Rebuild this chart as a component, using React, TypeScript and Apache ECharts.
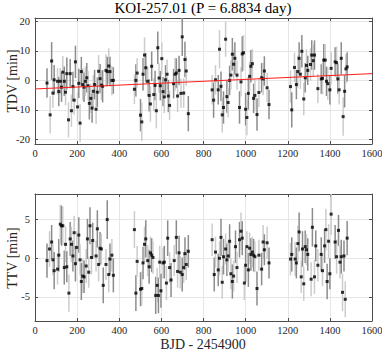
import React, { useEffect, useRef } from "react";
import * as echarts from "echarts";

const titleText = "KOI-257.01 (P = 6.8834 day)";
const tdvName = "TDV [min]";
const ttvName = "TTV [min]";
const xName = "BJD - 2454900";

// Top panel: transit duration variation
const tdvTime = [
  57, 72, 79, 85, 91, 107, 113, 120, 126, 132, 139, 145, 151, 159, 167, 173, 180, 186, 192, 202, 208, 214, 220, 227, 233, 239, 246, 252, 258, 265, 271, 277, 283, 290, 296, 302, 309, 315, 321, 337, 343, 350, 356, 365, 372,
  472, 479, 485, 501, 507, 513, 520, 526, 535, 542, 548, 554, 564, 570, 576, 583, 589, 595, 602, 608, 614, 620, 627, 633, 639, 658, 665, 671, 677, 684, 693, 699, 706, 712, 718, 728,
  841, 848, 857, 870, 876, 883, 889, 895, 905, 911, 917, 924, 930, 937, 943, 949, 959, 971, 978, 984, 990, 1000, 1006, 1013, 1019, 1025, 1032, 1038, 1044, 1054, 1063, 1076, 1083, 1089, 1102, 1111,
  1213, 1219, 1232, 1241, 1248, 1254, 1260, 1267, 1276, 1283, 1289, 1295, 1308, 1314, 1321, 1327, 1343, 1359, 1365, 1371, 1378, 1384, 1390, 1400, 1406, 1425, 1432, 1438, 1444, 1454, 1463, 1470, 1476, 1482,
];
const tdvValue = [
  -0.9, -11.7, 6.6, -4.3, 0.2, -0.3, -3.8, -0.3, -2.3, 2.8, -0.3, -4.0, 2.3, -13.4, 2.3, -10.3, -2.1, -6.7, 6.3, -9.0, -1.0, -14.5, 3.0, -1.4, -2.3, -0.3, 0.9, -1.8, -7.8, -6.1, -9.4, -3.7, -1.4, -9.8, -4.0, 3.1, 0.6, -1.6, -2.0, 3.4, 3.0, 4.9, 3.0, 0, 0,
  -3.0, 0, 2.5, -11.8, -14.1, 2.1, 8.6, 4.3, -0.3, -5.1, -8.0, 4.8, -4.8, -1.7, -10.3, 11.1, 0.8, -1.8, 7.4, -3.8, -5.6, 0.2, 2.1, -5.3, -8.5, -1.1, 2.1, 2.5, -5.3, 3.4, -4.4, 14.8, -4.3, 7.1, 3.2, -11.3,
  -3.2, -6.7, 0.2, -3.2, 10.6, -2.0, -11.7, -9.2, 14.0, -5.5, -7.5, 0, 1.8, 8.9, 5.5, 7.5, 1.8, -9.2, -0.5, 9.0, 9.4, -9.8, -12.6, -4.4, 1.4, 4.8, 5.7, -6.1, -5.1, -11.6, -4.1, 0.9, 0.5, 3.2, -2.5, -8.2,
  -2.1, -10.0, 4.4, -1.4, 3.0, 7.5, 2.1, 9.9, -6.3, 0.9, 5.1, 3.4, 5.4, 8.6, 6.7, 8.6, -2.8, 0.5, 0.7, 6.9, 6.9, -0.3, -1.1, -3.2, 4.1, 6.3, 6.0, 0.5, -3.2, 7.5, -12.3, -3.7, 3.9, 4.6,
];
const tdvError = [
  5.0, 6.3, 6.4, 5.0, 5.0, 4.5, 5.0, 4.5, 5.0, 5.5, 5.0, 4.5, 5.5, 6.0, 5.0, 5.5, 5.0, 5.0, 5.5, 5.0, 5.0, 6.5, 5.0, 5.5, 5.0, 5.0, 5.0, 5.0, 5.5, 5.0, 5.0, 5.5, 5.0, 5.0, 5.0, 5.5, 5.0, 5.0, 5.5, 5.5, 5.0, 6.0, 5.0, 5.0, 4.5,
  5.0, 5.5, 5.0, 5.5, 6.5, 5.5, 6.0, 5.0, 5.0, 5.5, 6.0, 5.0, 5.5, 5.0, 6.0, 5.5, 5.0, 5.0, 5.5, 5.0, 5.5, 5.0, 5.0, 5.5, 5.0, 5.0, 5.5, 5.0, 5.5, 5.0, 5.0, 6.5, 5.0, 6.0, 5.0, 6.0,
  5.0, 6.0, 5.0, 5.0, 6.5, 5.0, 6.0, 5.5, 6.0, 5.5, 5.0, 5.0, 5.0, 5.5, 5.0, 5.5, 5.0, 5.5, 5.0, 6.0, 6.0, 5.5, 6.0, 5.5, 5.0, 5.5, 5.0, 5.0, 5.5, 5.5, 5.0, 5.0, 5.5, 5.0, 5.0, 5.0,
  5.5, 6.0, 5.0, 5.0, 5.5, 5.5, 5.0, 5.5, 5.5, 5.0, 5.5, 5.0, 5.5, 5.0, 5.5, 5.0, 5.0, 5.0, 5.5, 5.5, 5.5, 5.0, 5.5, 5.0, 5.5, 5.0, 5.5, 5.0, 5.0, 5.5, 6.5, 5.5, 5.0, 5.0,
];
const tdvTrendX = [0, 1600];
const tdvTrendY = [-2.9, 2.3];

// Bottom panel: transit timing variation
const ttvTime = [
  57, 69, 79, 85, 91, 107, 113, 120, 126, 132, 139, 145, 151, 161, 167, 173, 180, 186, 192, 198, 208, 214, 220, 227, 233, 243, 249, 255, 261, 268, 274, 290, 296, 302, 309, 315, 324, 337, 343, 350, 356, 365, 372,
  472, 479, 485, 501, 507, 513, 520, 526, 535, 542, 548, 554, 560, 573, 580, 586, 592, 598, 608, 614, 624, 630, 639, 646, 661, 671, 677, 684, 690, 699, 706, 712, 718, 728,
  841, 851, 857, 870, 876, 883, 889, 895, 905, 911, 917, 924, 930, 937, 943, 952, 959, 971, 978, 984, 994, 1000, 1006, 1013, 1019, 1025, 1032, 1038, 1044, 1054, 1063, 1076, 1083, 1089, 1102, 1111,
  1213, 1219, 1235, 1241, 1248, 1254, 1264, 1270, 1276, 1283, 1289, 1295, 1311, 1317, 1327, 1333, 1343, 1359, 1365, 1375, 1381, 1387, 1394, 1400, 1406, 1425, 1432, 1441, 1448, 1454, 1460, 1467, 1473, 1482,
];
const ttvValue = [
  -0.3, 1.2, 2.1, -0.2, -1.6, -1.4, 0.4, 4.4, 4.2, 4.2, -1.2, 1.8, -1.1, -4.5, 2.5, 1.8, 0.3, 3.3, -0.7, 1.4, 3.0, -0.2, -3.0, -2.3, -2.4, -1.0, 2.5, -1.8, 4.2, 0.1, 2.3, 0.3, 3.8, -0.8, 1.3, 1.2, -3.5, -0.8, 5.0, -2.1, -0.1, 0.4, -2.2,
  3.7, -4.5, -0.4, -4.0, -3.9, -0.6, 1.8, 2.5, -0.3, -1.1, 0.7, 0.4, 0.1, -4.8, -3.5, -4.8, -0.5, -4.2, -0.6, -0.5, -3.2, 2.6, -1.2, -2.8, -0.3, 2.7, -1.7, 0.7, -1.8, -2.1, -1.2, 0.6, -0.8, 0.9,
  2.4, -2.1, 0.8, -1.5, 0, 2.7, -3.1, 0.2, 1.2, -0.2, 0.3, 2.2, -2.0, -3.0, -2.3, 1.5, -1.2, 2.4, 3.5, 2.6, -3.2, -0.9, 1.5, -1.5, 1.3, 0.5, 0.8, 0.4, 0.2, -3.9, 0.4, -1.4, 2.1, 1.1, 2.0, -0.6,
  -0.1, 0.5, -0.1, -0.6, 1.9, 3.4, -2.4, 1.2, -3.3, 1.5, 1.1, 0.5, -2.7, 4.0, -2.4, 1.6, -0.9, 0.5, -1.6, 1.6, 3.7, -3.0, 2.2, -2.0, 5.7, 2.1, 0.2, 3.6, -0.5, 0.2, -4.4, 0.3, -5.3, 2.6,
];
const ttvError = [
  2.2, 2.3, 2.2, 2.0, 2.4, 2.0, 2.1, 2.5, 2.6, 2.5, 2.2, 2.3, 2.0, 2.4, 2.2, 2.3, 2.0, 2.2, 2.3, 2.1, 2.3, 2.0, 2.4, 2.2, 2.1, 2.2, 2.6, 2.0, 2.4, 2.2, 2.3, 2.0, 2.4, 2.2, 2.1, 2.0, 2.3, 2.0, 2.5, 2.3, 2.0, 2.1, 2.2,
  2.4, 2.3, 2.0, 2.2, 2.2, 2.1, 2.3, 2.4, 2.0, 2.2, 2.1, 2.2, 2.1, 2.4, 2.2, 2.3, 2.1, 2.2, 2.0, 2.1, 2.2, 2.3, 2.0, 2.2, 2.0, 2.2, 2.1, 2.2, 2.1, 2.2, 2.0, 2.1, 2.0, 2.1,
  2.1, 2.2, 2.0, 2.1, 2.2, 2.4, 2.1, 2.3, 2.0, 2.1, 2.0, 2.2, 2.0, 2.2, 2.0, 2.1, 2.0, 2.3, 2.4, 2.2, 2.2, 2.2, 2.0, 2.2, 2.0, 2.1, 2.0, 2.1, 2.0, 2.2, 2.0, 2.1, 2.2, 2.0, 2.1, 2.0,
  2.1, 2.2, 2.2, 2.0, 2.3, 2.5, 2.1, 2.3, 2.2, 2.1, 2.0, 2.1, 2.2, 2.5, 2.2, 2.0, 2.1, 2.2, 2.0, 2.2, 2.7, 2.3, 2.2, 2.0, 2.7, 2.2, 2.2, 2.0, 2.1, 2.2, 2.4, 2.0, 2.3, 2.2,
];

const FONT = "Liberation Serif";
const AXIS_COLOR = "#4d4d4d";
const NAME_STYLE = { fontFamily: FONT, fontSize: 14, fill: "#262626", align: "center", verticalAlign: "middle" };

function errorBarSeries(gridIndex: number, t: number[], v: number[], e: number[]) {
  const data = t.map((x, i) => [x, v[i] - e[i], v[i] + e[i], i]);
  return {
    type: "custom",
    xAxisIndex: gridIndex * 2,
    yAxisIndex: gridIndex * 2,
    data,
    clip: true,
    renderItem: (_params: any, api: any) => {
      const x = api.value(0);
      const lo = api.coord([x, api.value(1)]);
      const hi = api.coord([x, api.value(2)]);
      const idx = api.value(3);
      return {
        type: "line",
        shape: { x1: lo[0], y1: lo[1], x2: hi[0], y2: hi[1] },
        style: { stroke: idx % 2 === 0 ? "#8c8c8c" : "#cccccc", lineWidth: 1.5 },
      };
    },
    z: 2,
  };
}

function pointSeries(gridIndex: number, t: number[], v: number[]) {
  return {
    type: "scatter",
    xAxisIndex: gridIndex * 2,
    yAxisIndex: gridIndex * 2,
    data: t.map((x, i) => [x, v[i]]),
    symbol: "rect",
    symbolSize: 3,
    itemStyle: { color: "#000" },
    z: 4,
  };
}

function xAxes(gridIndex: number) {
  const common = {
    type: "value",
    gridIndex,
    min: 0,
    max: 1600,
    interval: 200,
    axisLine: { show: true, onZero: false, lineStyle: { color: AXIS_COLOR, width: 1 } },
    axisTick: { show: true, inside: true, length: 3, lineStyle: { color: AXIS_COLOR } },
  };
  return [
    {
      ...common,
      position: "bottom",
      axisLabel: {
        show: true,
        fontFamily: FONT,
        fontSize: 10.5,
        color: "#262626",
        margin: 4,
        formatter: (v: number) => String(v),
      },
      splitLine: { show: true, lineStyle: { color: "#e6e6e6", width: 1 } },
    },
    {
      ...common,
      position: "top",
      axisLabel: { show: false },
      splitLine: { show: false },
    },
  ];
}

function yAxes(gridIndex: number, min: number, max: number, step: number) {
  const common = {
    type: "value",
    gridIndex,
    min,
    max,
    splitNumber: Math.round((max - min) / step),
    axisLine: { show: true, onZero: false, lineStyle: { color: AXIS_COLOR, width: 1 } },
    axisTick: { show: true, inside: true, length: 3, lineStyle: { color: AXIS_COLOR } },
  };
  return [
    {
      ...common,
      position: "left",
      axisLabel: {
        show: true,
        fontFamily: FONT,
        fontSize: 10.5,
        color: "#262626",
        margin: 5,
        showMinLabel: false,
        showMaxLabel: false,
        formatter: (val: number) =>
          Math.abs(val / step - Math.round(val / step)) < 1e-6 ? String(Math.round(val)) : "",
      },
      splitLine: { show: true, lineStyle: { color: "#e6e6e6", width: 1 } },
    },
    {
      ...common,
      position: "right",
      axisLabel: { show: false },
      splitLine: { show: false },
    },
  ];
}

export default function App() {
  const ref = useRef<HTMLDivElement>(null);
  useEffect(() => {
    if (!ref.current) return;
    const chart = echarts.init(ref.current, null, { renderer: "svg" });
    const option: any = {
      animation: false,
      backgroundColor: "#ffffff",
      title: {
        text: titleText,
        left: 203,
        textAlign: "center",
        top: 0,
        padding: 0,
        textStyle: { fontFamily: FONT, fontSize: 15, fontWeight: "normal", color: "#000" },
      },
      graphic: [
        { type: "text", x: 12, y: 81, rotation: Math.PI / 2, style: { ...NAME_STYLE, text: tdvName } },
        { type: "text", x: 12, y: 258, rotation: Math.PI / 2, style: { ...NAME_STYLE, text: ttvName } },
        { type: "text", x: 203, y: 344, style: { ...NAME_STYLE, text: xName } },
      ],
      grid: [
        { left: 35, right: 10, top: 18, height: 126, containLabel: false, outerBoundsMode: "none" },
        { left: 35, right: 10, top: 194, height: 127, containLabel: false, outerBoundsMode: "none" },
      ],
      xAxis: [...xAxes(0), ...xAxes(1)],
      yAxis: [...yAxes(0, -21.6, 21.2, 10), ...yAxes(1, -8.1, 8.3, 5)],
      series: [
        errorBarSeries(0, tdvTime, tdvValue, tdvError),
        pointSeries(0, tdvTime, tdvValue),
        {
          type: "line",
          xAxisIndex: 0,
          yAxisIndex: 0,
          data: tdvTrendX.map((x, i) => [x, tdvTrendY[i]]),
          showSymbol: false,
          lineStyle: { color: "#ff1a1a", width: 1 },
          z: 5,
        },
        errorBarSeries(1, ttvTime, ttvValue, ttvError),
        pointSeries(1, ttvTime, ttvValue),
      ],
    };
    chart.setOption(option);
    return () => chart.dispose();
  }, []);
  return (
    <div
      ref={ref}
      style={{ position: "fixed", left: 0, top: 0, width: 382, height: 350 }}
    />
  );
}
